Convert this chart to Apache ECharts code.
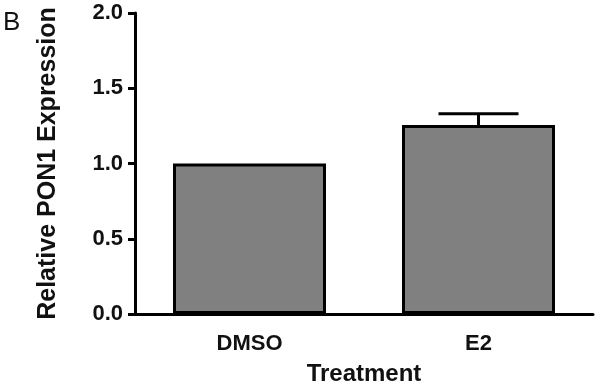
<!DOCTYPE html>
<html>
<head>
<meta charset="utf-8">
<script src="https://cdn.jsdelivr.net/npm/echarts@6/dist/echarts.min.js"></script>
<style>
  html, body { margin: 0; padding: 0; background: #fff; }
  #main { width: 600px; height: 391px; }
</style>
</head>
<body>
<div id="main"></div>
<script>
// data
var categories = ['DMSO', 'E2']
var means = [1.0, 1.255]
var errors = [0, 0.075]
var yTicks = ['0.0', '0.5', '1.0', '1.5', '2.0']

var chart = echarts.init(document.getElementById('main'))
var font = 'Liberation Sans, Arial, sans-serif'

var option = {
  animation: false,
  graphic: [
    {
      type: 'text',
      left: 3,
      top: 10,
      style: { text: 'B', font: '26px ' + font, fill: '#111' }
    }
  ],
  grid: { left: 135, right: 7, top: 13, bottom: 75 },
  xAxis: {
    type: 'category',
    data: categories,
    name: 'Treatment',
    nameLocation: 'middle',
    nameGap: 48,
    nameTextStyle: { fontFamily: font, fontWeight: 'bold', fontSize: 24, color: '#111' },
    axisLine: { lineStyle: { color: '#000', width: 3 } },
    axisTick: { alignWithLabel: true, length: 10, lineStyle: { color: '#000', width: 3 } },
    axisLabel: { fontFamily: font, fontWeight: 'bold', fontSize: 22, color: '#111', margin: 19 },
    splitLine: { show: false }
  },
  yAxis: {
    type: 'value',
    min: 0,
    max: 2,
    interval: 0.5,
    name: 'Relative PON1 Expression',
    nameLocation: 'middle',
    nameGap: 74,
    nameTextStyle: { fontFamily: font, fontWeight: 'bold', fontSize: 25, color: '#111' },
    axisLine: { show: true, lineStyle: { color: '#000', width: 3 } },
    axisTick: { show: true, length: 7, lineStyle: { color: '#000', width: 3 } },
    axisLabel: {
      fontFamily: font, fontWeight: 'bold', fontSize: 22, color: '#111', margin: 12,
      formatter: function (v) { return yTicks[Math.round(v / 0.5)] }
    },
    splitLine: { show: false }
  },
  series: [
    {
      type: 'bar',
      data: means,
      barWidth: 153,
      itemStyle: { color: '#808080', borderColor: '#000', borderWidth: 3 },
      z: 2
    },
    {
      // error bars (upper only)
      type: 'custom',
      data: categories.map(function (c, i) { return [i, means[i], errors[i]] }),
      renderItem: function (params, api) {
        var err = api.value(2)
        if (!err) return
        var base = api.coord([api.value(0), api.value(1)])
        var top = api.coord([api.value(0), api.value(1) + err])
        var half = 40
        return {
          type: 'group',
          children: [
            { type: 'line', shape: { x1: base[0], y1: base[1], x2: top[0], y2: top[1] }, style: { stroke: '#000', lineWidth: 3 } },
            { type: 'line', shape: { x1: top[0] - half, y1: top[1], x2: top[0] + half, y2: top[1] }, style: { stroke: '#000', lineWidth: 3 } }
          ]
        }
      },
      z: 1
    }
  ]
}

chart.setOption(option)
</script>
</body>
</html>
